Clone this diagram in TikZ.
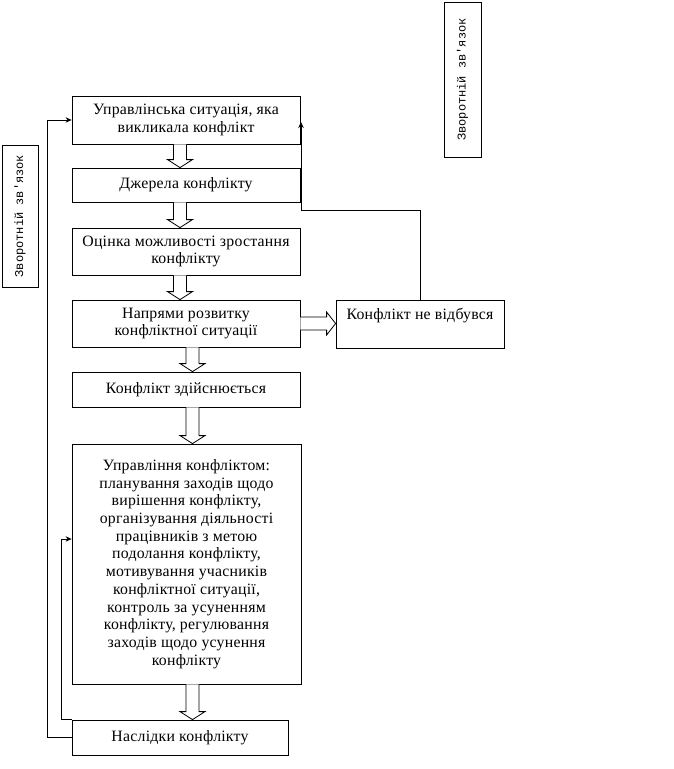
\documentclass[tikz,border=0pt]{standalone}
\usepackage{fontspec}
\setmainfont{Liberation Serif}[LetterSpace=1.5]
\setmonofont{Liberation Mono}
\usetikzlibrary{calc,arrows.meta}
\newcommand\blkdown[3]{%
  \draw[blk] let \p1=(#1.south), \p2=(#2.north) in
    (#3pt-6.5pt,\y1) -- (#3pt-6.5pt,\y2+8pt) -- (#3pt-12.5pt,\y2+8pt) --
    (#3pt,\y2) -- (#3pt+12.5pt,\y2+8pt) -- (#3pt+6.5pt,\y2+8pt) --
    (#3pt+6.5pt,\y1);}
\begin{document}
\begin{tikzpicture}[x=1pt,y=-1pt,
  box/.style={draw, line width=0.8pt, inner sep=0pt, align=center,
    font=\fontsize{15.8}{17.7}\selectfont},
  side/.style={draw, line width=0.8pt, inner sep=0pt, rotate=90,
    font=\ttfamily\fontsize{12}{14}\selectfont},
  blk/.style={draw, line width=0.8pt, fill=white},
  fb/.style={draw, line width=0.8pt, -{Stealth[length=6pt,width=5.5pt]}}]
\useasboundingbox (0,0) rectangle (673,769);
\node[box, minimum width=228, minimum height=48] (b1) at (186,120)
  {Управлінська ситуація, яка\\викликала конфлікт};
\node[box, minimum width=228, minimum height=34] (b2) at (186,185)
  {Джерела конфлікту};
\node[box, minimum width=228, minimum height=47] (b3) at (186,251.5)
  {Оцінка можливості зростання\\конфлікту};
\node[box, minimum width=228, minimum height=47] (b4) at (186,323.5)
  {Напрями розвитку\\конфліктної ситуації};
\node[box, minimum width=228, minimum height=35] (b5) at (186,389.5)
  {Конфлікт здійснюється};
\node[box, minimum width=229, minimum height=240] (b6) at (186.5,564)
  {Управління конфліктом:\\планування заходів щодо\\вирішення конфлікту,\\організування діяльності\\працівників з метою\\подолання конфлікту,\\мотивування учасників\\конфліктної ситуації,\\контроль за усуненням\\конфлікту, регулювання\\заходів щодо усунення\\конфлікту};
\node[box, minimum width=216, minimum height=35] (b7) at (180,737.5)
  {Наслідки конфлікту};
\node[box, minimum width=168, minimum height=48,
  label={[anchor=north, inner sep=0pt, yshift=-8pt,
    font=\fontsize{15.8}{17.7}\selectfont]north:Конфлікт не відбувся}] (b8) at (420,324) {};
\node[side, minimum width=142, minimum height=36] (s1) at (20,216)
  {Зворотній зв'язок};
\node[side, minimum width=155, minimum height=37] (s2) at (462.5,79.5)
  {Зворотній зв'язок};
% block arrows
\blkdown{b1}{b2}{180}
\blkdown{b2}{b3}{180}
\blkdown{b3}{b4}{180}
\blkdown{b4}{b5}{192.5}
\blkdown{b5}{b6}{192.5}
\blkdown{b6}{b7}{192.5}
\draw[blk] let \p1=(b4.east), \p2=(b8.west) in
  (\x1,\y1+6.5pt) -- (\x2-9pt,\y1+6.5pt) -- (\x2-9pt,\y1+11.5pt) --
  (\x2,\y1) -- (\x2-9pt,\y1-11.5pt) -- (\x2-9pt,\y1-6.5pt) -- (\x1,\y1-6.5pt);
% feedback lines
\coordinate (r1) at (301,210);
\coordinate (r2) at (301,122);
\draw[fb] (b8.north) |- (r1) -- (r2);
\draw[fb] (b7.west) -- ++(-24,0) |- (b1.west);
\coordinate (l1) at ($(b6.west)+(0,-25)$);
\draw[fb] (b7.north west) -- ++(-10,0) |- (l1);
\end{tikzpicture}
\end{document}
